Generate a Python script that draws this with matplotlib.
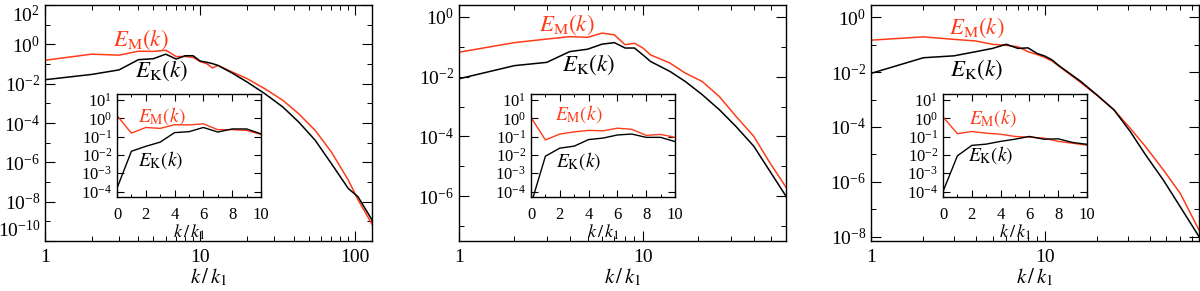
import numpy as np
import matplotlib
matplotlib.use('Agg')
import matplotlib.pyplot as plt
from matplotlib.ticker import FixedLocator, NullFormatter, LogLocator, MultipleLocator

plt.rcParams['font.family'] = ['Liberation Serif', 'DejaVu Serif']
plt.rcParams['mathtext.fontset'] = 'stix'

RED = '#ff3c1a'

# wavenumbers k/k1 and log10 spectra
# panel 1
k1 = [1, 2, 3, 4, 5, 6, 7, 8, 9, 10, 11, 12, 13, 16, 20, 26, 34, 43, 55, 70, 90, 104, 128]
em1 = [-0.81, -0.50, -0.55, -0.35, -0.36, -0.30, -0.62, -0.62, -0.66, -0.88, -0.98, -1.20, -1.07,
       -1.40, -1.74, -2.25, -2.84, -3.52, -4.37, -5.47, -6.90, -7.90, -9.15]
ek1 = [-1.80, -1.53, -1.30, -0.78, -0.73, -0.50, -0.75, -0.58, -0.58, -0.85, -0.91, -0.98, -1.07,
       -1.45, -1.91, -2.50, -3.18, -3.94, -4.87, -6.06, -7.33, -7.75, -8.93]
em1_0, ek1_0 = 0.15, -3.82

# panel 2
k2 = [1, 2, 3, 4, 5, 6, 7, 8, 9, 10, 11, 14, 17, 21, 26, 32, 40, 49, 60]
em2 = [-1.18, -0.86, -0.74, -0.66, -0.68, -0.54, -0.60, -0.93, -0.88, -1.04, -1.27,
       -1.54, -1.88, -2.16, -2.66, -3.32, -3.99, -4.88, -5.70]
ek2 = [-2.07, -1.63, -1.52, -1.16, -1.08, -0.91, -0.86, -1.04, -1.04, -1.27, -1.49,
       -1.82, -2.16, -2.60, -3.10, -3.66, -4.32, -5.16, -6.00]
em2_0, ek2_0 = 0.05, -4.7

# panel 3
k3 = [1, 2, 3, 4, 5, 6, 7, 8, 9, 10, 11, 12, 16, 20, 25, 31, 38, 48, 60, 77]
em3 = [-0.84, -0.72, -0.81, -0.87, -0.99, -1.03, -1.08, -1.26, -1.36, -1.47, -1.60, -1.78,
       -2.37, -2.86, -3.38, -4.05, -4.72, -5.56, -6.41, -7.75]
ek3 = [-2.05, -1.48, -1.41, -1.26, -1.14, -0.99, -1.14, -1.12, -1.32, -1.42, -1.56, -1.76,
       -2.33, -2.84, -3.38, -4.17, -5.02, -5.93, -6.90, -7.99]
em3_0, ek3_0 = 0.08, -4.0

panels = [
    dict(k=k1, em=em1, ek=ek1, em0=em1_0, ek0=ek1_0, xmax=128, ylo=-10, yhi=2,
         left=45, right=372, lab=(-10, 2), tm=(141, 40), tk=(161, 71), im=(162, 116), ik=(161, 160)),
    dict(k=k2, em=em2, ek=ek2, em0=em2_0, ek0=ek2_0, xmax=60, ylo=-7.5, yhi=0.4,
         left=459, right=786, lab=(-6, 0), tm=(567, 25), tk=(588, 65), im=(579, 114), ik=(579, 161)),
    dict(k=k3, em=em3, ek=ek3, em0=em3_0, ek0=ek3_0, xmax=77, ylo=-8.15, yhi=0.44,
         left=871, right=1199, lab=(-8, 0), tm=(977, 28), tk=(976, 70), im=(993, 118), ik=(991, 155)),
]

W, H = 1200, 291
fig = plt.figure(figsize=(W / 100, H / 100), dpi=100)


def style(ax, fs):
    ax.tick_params(which='both', direction='in', top=True, right=True, labelsize=fs)
    ax.tick_params(which='major', length=7, width=0.8)
    ax.tick_params(which='minor', length=3.5, width=0.7)
    for s in ax.spines.values():
        s.set_linewidth(1.0)


for p in panels:
    ax = fig.add_axes([p['left'] / W, 1 - 241 / H, (p['right'] - p['left']) / W, 236 / H])
    k = np.array(p['k'])
    ax.plot(k, np.power(10.0, p['em']), color=RED, lw=1.1)
    ax.plot(k, np.power(10.0, p['ek']), color='black', lw=1.1)
    ax.set_xscale('log')
    ax.set_yscale('log')
    ax.set_xlim(1, p['xmax'])
    ax.set_ylim(10.0 ** p['ylo'], 10.0 ** p['yhi'])
    lo, hi = p['lab']
    ax.yaxis.set_major_locator(FixedLocator([10.0 ** e for e in range(lo, hi + 1, 2)]))
    ax.yaxis.set_minor_locator(FixedLocator([10.0 ** e for e in range(lo - 1, hi + 2, 2)]))
    ax.yaxis.set_minor_formatter(NullFormatter())
    ax.xaxis.set_minor_locator(LogLocator(base=10, subs=np.arange(2, 10)))
    ax.xaxis.set_minor_formatter(NullFormatter())
    ax.xaxis.set_major_formatter(plt.FuncFormatter(lambda v, pos: '%d' % v))
    style(ax, 14)
    ax.tick_params(axis='x', pad=6)
    ax.set_xlabel(r'$k\,/\,k_1$', fontsize=15, labelpad=0)
    # keep the end labels inside the figure, as in the original
    if p['yhi'] >= 2:
        ticks = ax.yaxis.get_major_ticks()
        ticks[-1].label1.set_verticalalignment('top')
        ticks[0].label1.set_verticalalignment('bottom')

    fig.text(p['tm'][0] / W, 1 - p['tm'][1] / H, r'$E_{\rm M}(k)$', color=RED,
             fontsize=16.5, ha='center', va='center')
    fig.text(p['tk'][0] / W, 1 - p['tk'][1] / H, r'$E_{\rm K}(k)$', color='black',
             fontsize=16.5, ha='center', va='center')

    # inset on linear k, including k = 0
    ins = fig.add_axes([(p['left'] + 72) / W, 1 - 197 / H, 144 / W, 103 / H])
    ki = np.concatenate([[0], k[:10]])
    ins.plot(ki, np.power(10.0, np.concatenate([[p['em0']], p['em'][:10]])), color=RED, lw=1.0)
    ins.plot(ki, np.power(10.0, np.concatenate([[p['ek0']], p['ek'][:10]])), color='black', lw=1.0)
    ins.set_yscale('log')
    ins.set_xlim(0, 10)
    ins.set_ylim(10.0 ** -4.3, 10.0 ** 1.33)
    ins.xaxis.set_major_locator(MultipleLocator(2))
    ins.xaxis.set_minor_locator(MultipleLocator(1))
    ins.yaxis.set_major_locator(FixedLocator([10.0 ** e for e in range(-4, 2)]))
    ins.yaxis.set_minor_locator(LogLocator(base=10, subs=np.arange(2, 10)))
    ins.yaxis.set_minor_formatter(NullFormatter())
    style(ins, 12)
    ins.tick_params(which='major', length=5)
    ins.tick_params(which='minor', length=2.5)
    ins.tick_params(axis='x', pad=7)
    ins.set_xlabel(r'$k\,/\,k_1$', fontsize=13, labelpad=0)
    fig.text(p['im'][0] / W, 1 - p['im'][1] / H, r'$E_{\rm M}(k)$', color=RED,
             fontsize=14, ha='center', va='center')
    fig.text(p['ik'][0] / W, 1 - p['ik'][1] / H, r'$E_{\rm K}(k)$', color='black',
             fontsize=14, ha='center', va='center')

fig.savefig('out.png', dpi=100)
